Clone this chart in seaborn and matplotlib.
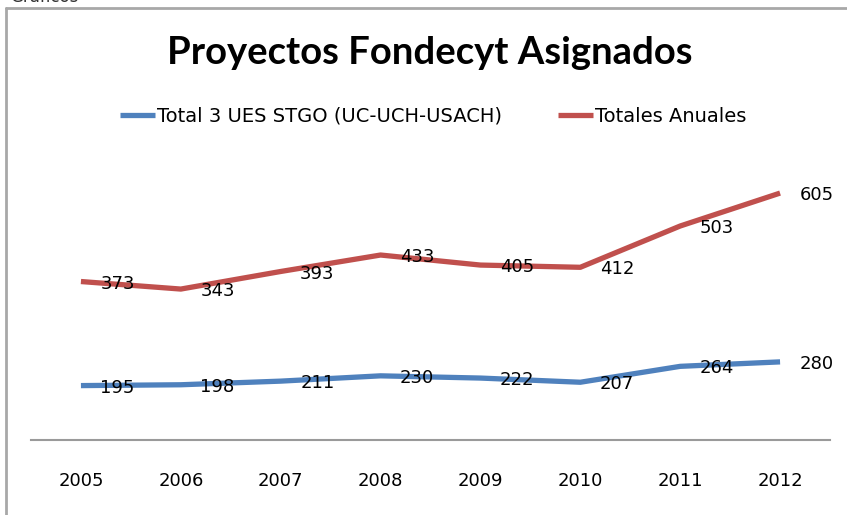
import numpy as np
import pandas as pd
import matplotlib
matplotlib.use('Agg')
import matplotlib.pyplot as plt
from matplotlib.lines import Line2D
import seaborn as sns

# Datos del gráfico
years = ['2005', '2006', '2007', '2008', '2009', '2010', '2011', '2012']
total_3_ues = [195, 198, 211, 230, 222, 207, 264, 280]
totales_anuales = [373, 343, 393, 433, 405, 412, 503, 605]

serie_azul = 'Total 3 UES STGO (UC-UCH-USACH)'
serie_roja = 'Totales Anuales'
azul = '#4F81BD'
rojo = '#C0504D'

sns.set_style('white')
plt.rcParams['font.family'] = ['DejaVu Sans']
plt.rcParams['text.color'] = 'black'
plt.rcParams['xtick.color'] = 'black'

# Excel lo dibujó como líneas apiladas: la roja va sobre la azul
df = pd.DataFrame({'pos': np.arange(len(years)),
                   'azul': total_3_ues,
                   'roja': np.array(total_3_ues) + np.array(totales_anuales)})

fig = plt.figure(figsize=(8.47, 5.15), dpi=100)
ax = fig.add_axes([31 / 847, 75 / 515, 799 / 847, 279 / 515])

sns.lineplot(data=df, x='pos', y='azul', ax=ax, color=azul, linewidth=3.8,
             label=serie_azul, solid_capstyle='butt')
sns.lineplot(data=df, x='pos', y='roja', ax=ax, color=rojo, linewidth=3.8,
             label=serie_roja, solid_capstyle='butt')

# Etiquetas de datos
for i in range(len(years)):
    ax.annotate(str(total_3_ues[i]), (df['pos'][i], df['azul'][i]),
                xytext=(14, -1.5), textcoords='offset points',
                ha='left', va='center', fontsize=13, color='black')
    ax.annotate(str(totales_anuales[i]), (df['pos'][i], df['roja'][i]),
                xytext=(14, -1.5), textcoords='offset points',
                ha='left', va='center', fontsize=13, color='black')

ax.set_xlim(-0.5, len(years) - 0.5)
ax.set_ylim(0, 1000)
ax.set_xticks(df['pos'])
ax.set_xticklabels(years, fontsize=13)
ax.set_yticks([])
ax.set_xlabel('')
ax.set_ylabel('')
ax.tick_params(axis='x', length=0, pad=23)
for s in ['top', 'left', 'right']:
    ax.spines[s].set_visible(False)
ax.spines['bottom'].set_color('#9a9a9a')
ax.spines['bottom'].set_linewidth(1.5)

ax.legend(loc='center', bbox_to_anchor=(433 / 847, 1 - 116 / 515),
          bbox_transform=fig.transFigure, ncol=2, frameon=False,
          fontsize=14, handlelength=1.8, handletextpad=0.1,
          columnspacing=2.9)

fig.text(430 / 847, 1 - 53 / 515, 'Proyectos Fondecyt Asignados',
         ha='center', va='center', fontsize=27.5, fontweight='bold',
         family=['Lato', 'DejaVu Sans'])

# Marco del gráfico y texto cortado arriba
fig.add_artist(Line2D([6 / 847, 1], [1 - 8 / 515, 1 - 8 / 515],
                      transform=fig.transFigure, color='#a8a8a8', linewidth=2))
fig.add_artist(Line2D([6 / 847, 6 / 847], [0, 1 - 8 / 515],
                      transform=fig.transFigure, color='#a8a8a8', linewidth=2))
fig.text(10 / 847, 1 - 2 / 515, 'Gráficos', ha='left', va='baseline',
         fontsize=12, color='#333333')

fig.savefig('out.png', dpi=100)
